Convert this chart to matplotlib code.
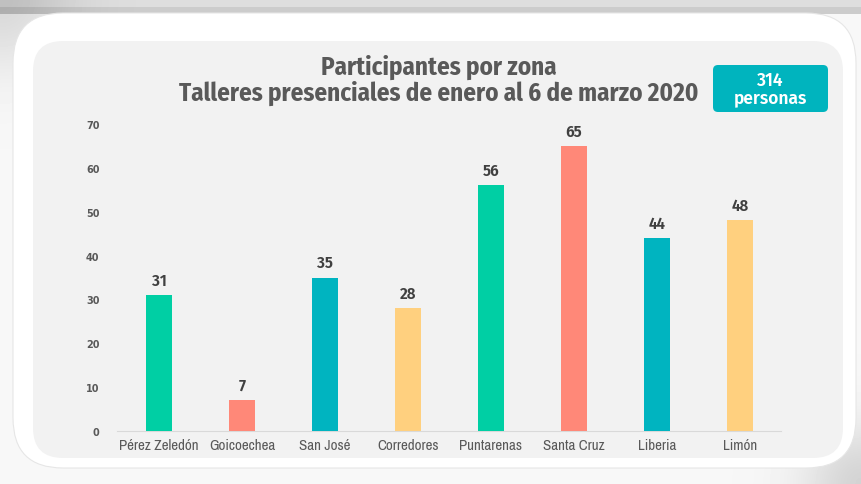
import numpy as np
import matplotlib.pyplot as plt
from matplotlib.patches import FancyBboxPatch

zonas = ["Pérez Zeledón", "Goicoechea", "San José", "Corredores",
         "Puntarenas", "Santa Cruz", "Liberia", "Limón"]
participantes = [31, 7, 35, 28, 56, 65, 44, 48]
colores = ["#00cfa4", "#ff8878", "#00b4c0", "#ffd07f",
           "#00cfa4", "#ff8878", "#00b4c0", "#ffd07f"]
yticks = [0, 10, 20, 30, 40, 50, 60, 70]

plt.rcParams['font.family'] = ['Fira Sans Condensed', 'DejaVu Sans']
gris = "#595959"

W, H = 862, 485
fig = plt.figure(figsize=(W / 100, H / 100), dpi=100)

# fondo decorativo (sombra, marco blanco y panel gris)
bg = fig.add_axes([0, 0, 1, 1])
bg.set_xlim(0, W)
bg.set_ylim(H, 0)
bg.axis("off")
yy, xx = np.mgrid[0:H, 0:W]
shade = np.full((H, W), 0.97)
shade[yy < 15] = 0.80
shade[yy < 8] = 0.87
corner = np.exp(-((xx / 70.0) ** 2 + (yy / 70.0) ** 2))
shade = shade - 0.12 * corner
corner2 = np.exp(-(((W - xx) / 60.0) ** 2 + ((H - yy) / 60.0) ** 2))
shade = shade - 0.14 * corner2
bg.imshow(shade, cmap="gray", vmin=0, vmax=1, extent=(0, W, H, 0), zorder=0)
bg.add_patch(FancyBboxPatch((13 + 50, 14 + 50), 843 - 100, 455 - 100,
                            boxstyle="round,pad=50", fc="white",
                            ec="#e6e6e6", lw=0.8, zorder=1))
bg.add_patch(FancyBboxPatch((33 + 30, 42 + 30), 810 - 60, 417 - 60,
                            boxstyle="round,pad=30", fc="#f2f2f2",
                            ec="none", zorder=2))

# recuadro de total
bg.add_patch(FancyBboxPatch((713 + 5, 66 + 5), 115 - 10, 47 - 10,
                            boxstyle="round,pad=5", fc="#00b4be",
                            ec="none", zorder=3))
bg.text(770.5, 89.5, "314\npersonas", color="white", fontsize=12.5,
        fontweight="semibold", ha="center", va="center", linespacing=1.0,
        family=['Fira Sans', 'DejaVu Sans'], zorder=4)

# títulos
bg.text(439, 67, "Participantes por zona", color=gris, fontsize=18,
        fontweight="bold", ha="center", va="center", zorder=4)
bg.text(439, 93, "Talleres presenciales de enero al 6 de marzo 2020",
        color=gris, fontsize=18, fontweight="bold", ha="center",
        va="center", zorder=4)

# gráfico de barras
ax = fig.add_axes([117.5 / W, 1 - 432 / H, 664 / W, 307 / H])
ax.patch.set_alpha(0)
x = np.arange(len(zonas))
bars = ax.bar(x, participantes, width=0.31, color=colores, zorder=3)
for b, v in zip(bars, participantes):
    ax.annotate(str(v), (b.get_x() + b.get_width() / 2, v),
                xytext=(0, 5), textcoords="offset points", ha="center",
                va="bottom", fontsize=12, fontweight="semibold",
                color="#404040")
ax.set_xlim(-0.5, len(zonas) - 0.5)
ax.set_ylim(0, 70)
ax.set_yticks(yticks)
ax.set_xticks(x)
ax.set_xticklabels(zonas, fontsize=10.8, color=gris,
                   family=['Archivo Narrow', 'DejaVu Sans'])
for lbl in ax.get_yticklabels():
    lbl.set_family(['DejaVu Sans'])
    lbl.set_fontweight("bold")
ax.tick_params(axis="y", length=0, pad=13, labelsize=7, labelcolor=gris)
ax.tick_params(axis="x", length=0, pad=5)
for s in ["top", "right", "left"]:
    ax.spines[s].set_visible(False)
ax.spines["bottom"].set_color("#d9d9d9")

fig.savefig("out.png", dpi=100)
